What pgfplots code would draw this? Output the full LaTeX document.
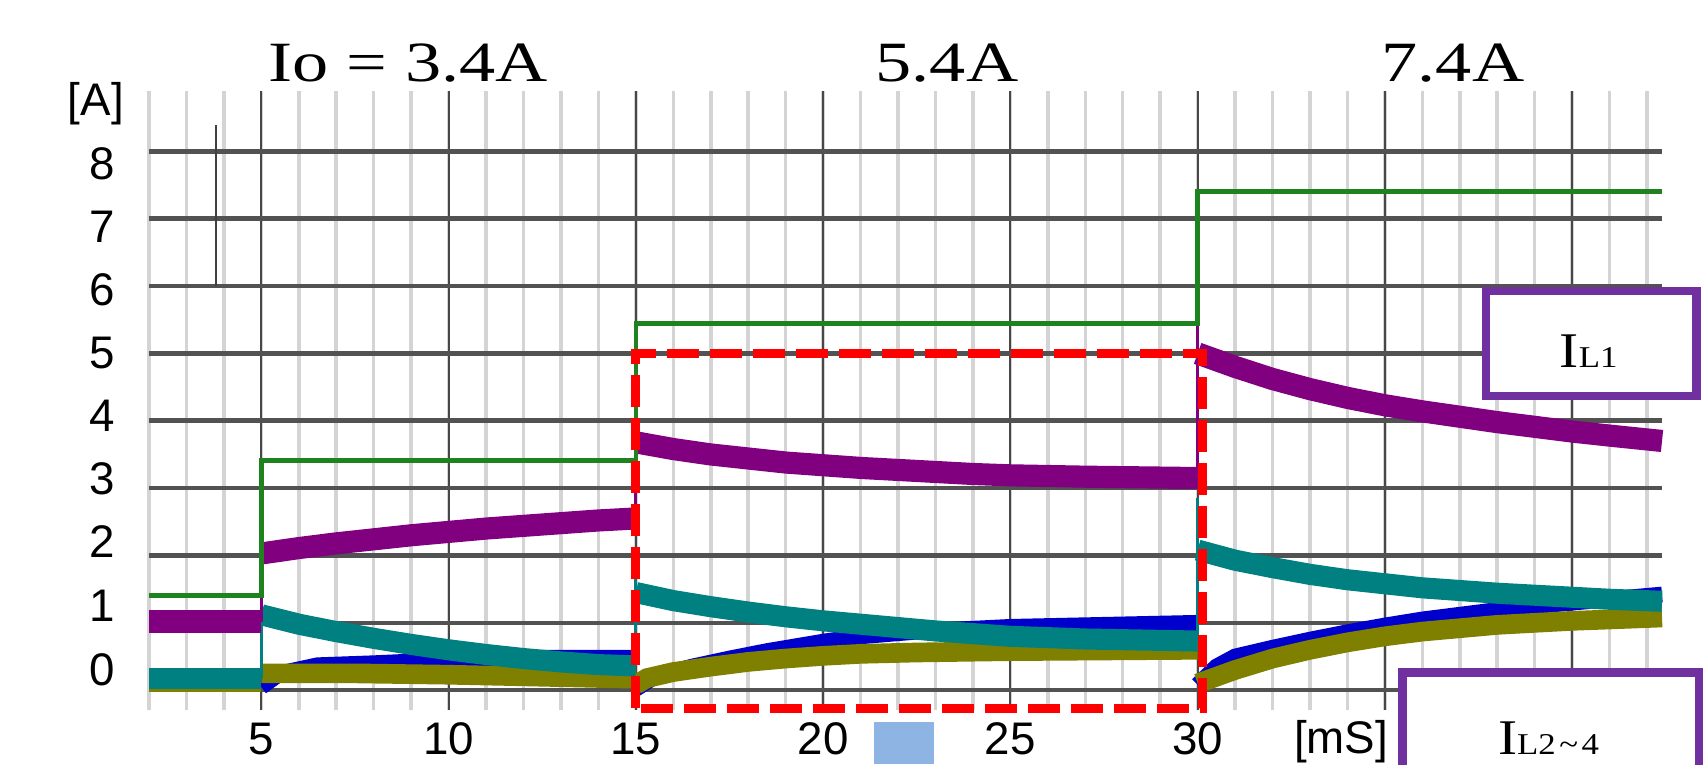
\documentclass[border=0pt]{standalone}
\usepackage{fontspec}
\setmainfont{Liberation Sans}
\newfontfamily\timesfont{Liberation Serif}
\usepackage{graphicx}
\usepackage{pgfplots}
\pgfplotsset{compat=1.18}

\definecolor{cPurple}{RGB}{128,0,128}
\definecolor{cTeal}{RGB}{0,128,128}
\definecolor{cOlive}{RGB}{128,128,0}
\definecolor{cBlue}{RGB}{0,0,205}
\definecolor{cGreen}{RGB}{30,130,30}
\definecolor{cRed}{RGB}{255,0,0}
\definecolor{cBox}{RGB}{112,48,160}
\definecolor{cLight}{RGB}{141,180,226}

\begin{document}
\begin{tikzpicture}
\begin{axis}[
  at={(14.9mm,5.36mm)}, anchor=south west,
  scale only axis, width=151.3mm, height=61.97mm,
  xmin=2, xmax=42.4, ymin=-0.3, ymax=8.9,
  clip=false,
  axis line style={draw=none},
  major tick length=0pt, minor tick length=0pt,
  xtick={5,10,15,20,25,30},
  xticklabels={5,10,15,20,25,30},
  minor xtick={2,3,...,42},
  xmajorgrids, xminorgrids,
  major x grid style={black!72, line width=0.6pt},
  minor x grid style={black!17, line width=1.0pt},
  extra x ticks={35,40},
  extra x tick labels={},
  extra x tick style={grid=major, major grid style={black!38, line width=1.0pt}},
  ytick={0.3,1.25,2.2,3.14,4.07,5,5.94,6.88,7.82},
  yticklabels={0,1,2,3,4,5,6,7,8},
  extra y ticks={0,1,2,3,4,5,6,7,8},
  extra y tick labels={},
  extra y tick style={grid=major, major grid style={black!68, line width=1.3pt}},
  tick label style={font=\fontsize{13}{13}\selectfont},
  yticklabel style={xshift=-2.2mm},
  /pgf/number format/assume math mode=true,
]
% short dark marker line
\addplot[black!75, line width=0.6pt] coordinates {(3.78,6.0)(3.78,8.39)};

% blue
\addplot[cBlue, line width=4.5pt] coordinates {(2,0.15)(5,0.15)};
\addplot[cBlue, line width=4.5pt] coordinates {(5,0.05)(5.5,0.25)(6.5,0.37)(8,0.4)(10,0.45)(12.5,0.48)(15,0.48)};
\addplot[cBlue, line width=4.5pt] coordinates {(15,0.02)(15.5,0.2)(16.5,0.35)(17.5,0.47)(18.5,0.58)(20,0.72)(21,0.8)(22.5,0.87)(25,0.94)(27.5,0.97)(30,1.0)};
\addplot[cBlue, line width=4.5pt] coordinates {(30,0.08)(30.5,0.35)(31,0.5)(32,0.63)(33,0.75)(34,0.86)(35,0.96)(36,1.05)(37,1.12)(38,1.19)(39,1.25)(40,1.3)(41,1.35)(42.4,1.42)};

% olive
\addplot[cOlive, line width=5.6pt] coordinates {(2,0.12)(5,0.12)};
\addplot[cOlive, line width=5.6pt] coordinates {(5,0.25)(7.5,0.25)(10,0.23)(12.5,0.2)(15,0.17)};
\addplot[cOlive, line width=5.6pt] coordinates {(15,0.08)(15.3,0.18)(16,0.27)(17,0.35)(18,0.42)(19,0.47)(20,0.51)(21,0.54)(22.5,0.56)(25,0.58)(30,0.6)};
\addplot[cOlive, line width=5.6pt] coordinates {(30,0.1)(30.5,0.2)(31,0.3)(32,0.47)(33,0.6)(34,0.71)(35,0.8)(36,0.87)(37,0.92)(38,0.97)(39,1.0)(40,1.03)(41,1.05)(42.4,1.08)};

% teal
\addplot[cTeal, line width=6pt] coordinates {(2,0.17)(5,0.17)};
\addplot[cTeal, line width=6pt] coordinates {(5,1.12)(6,0.98)(7,0.87)(8,0.77)(9,0.68)(10,0.6)(11,0.53)(12,0.47)(13,0.42)(14,0.38)(15,0.36)};
\addplot[cTeal, line width=6pt] coordinates {(15,1.45)(16,1.33)(17,1.24)(18,1.16)(19,1.09)(20,1.03)(21,0.98)(22,0.93)(23,0.88)(24,0.84)(25,0.8)(27,0.76)(30,0.73)};
\addplot[cTeal, line width=6pt] coordinates {(30,2.08)(31,1.93)(32,1.82)(33,1.72)(34,1.64)(35,1.58)(36,1.52)(37,1.48)(38,1.44)(39,1.41)(40,1.38)(41,1.35)(42.4,1.32)};
\addplot[cTeal, line width=0.9pt] coordinates {(5,0.17)(5,1.25)};
\addplot[cTeal, line width=0.9pt] coordinates {(15,0.36)(15,1.95)};
\addplot[cTeal, line width=0.9pt] coordinates {(30,0.73)(30,2.85)};

% purple
\addplot[cPurple, line width=6.3pt] coordinates {(2,1.02)(5,1.02)};
\addplot[cPurple, line width=6.3pt] coordinates {(5,2.03)(6,2.11)(7,2.18)(8,2.24)(9,2.3)(10,2.35)(11,2.4)(12,2.44)(13,2.48)(14,2.52)(15,2.55)};
\addplot[cPurple, line width=6.3pt] coordinates {(15,3.68)(16,3.58)(17,3.5)(18,3.44)(19,3.38)(20,3.34)(21,3.3)(22,3.27)(23,3.24)(24,3.21)(25,3.19)(27,3.17)(30,3.15)};
\addplot[cPurple, line width=6.3pt] coordinates {(30,5.0)(30.5,4.9)(31,4.8)(32,4.62)(33,4.47)(34,4.34)(35,4.23)(36,4.14)(37,4.06)(38,3.98)(39,3.91)(40,3.84)(41,3.78)(42.4,3.7)};
\addplot[cPurple, line width=0.9pt] coordinates {(5,1.02)(5,2.75)};
\addplot[cPurple, line width=0.9pt] coordinates {(15,2.55)(15,4.2)};
\addplot[cPurple, line width=0.9pt] coordinates {(30,3.15)(30,5.9)};

% green (Io)
\addplot[cGreen, line width=1.3pt, const plot] coordinates {(2,1.41)(5,3.41)(15,5.44)(30,7.4)(42.4,7.4)};

% red dashed rectangle
\draw[cRed, line width=0.9mm, dash pattern=on 3.2mm off 1.1mm]
  (axis cs:14.98,-0.27) rectangle (axis cs:30.12,5.0);
\end{axis}

% titles
\node[anchor=base] at (40.8mm,68.23mm) {\scalebox{1.27}[1]{\timesfont\fontsize{16.2}{18}\selectfont Io = 3.4A}};
\node[anchor=base] at (94.7mm,68.23mm) {\scalebox{1.27}[1]{\timesfont\fontsize{16.2}{18}\selectfont 5.4A}};
\node[anchor=base] at (145.3mm,68.23mm) {\scalebox{1.27}[1]{\timesfont\fontsize{16.2}{18}\selectfont 7.4A}};

% unit labels
\node at (9.58mm,66.06mm) {\fontsize{13}{13}\selectfont [A]};
\node at (134.1mm,2.25mm) {\fontsize{13}{13}\selectfont [mS]};

% light blue square
\fill[cLight] (87.4mm,0mm) rectangle (93.4mm,4.2mm);

% boxes
\draw[cBox, line width=0.85mm, fill=white] (148.6mm,36.8mm) rectangle (169.65mm,47.3mm);
\node[anchor=base] at (158.85mm,39.7mm) {\scalebox{1.15}[1]{\timesfont\fontsize{14.2}{14}\selectfont I\fontsize{8.6}{9}\selectfont L1}};
\draw[cBox, line width=0.85mm, fill=white] (140.25mm,-6mm) rectangle (169.9mm,9.15mm);
\node[anchor=base] at (154.85mm,1.0mm) {\scalebox{1.15}[1]{\timesfont\fontsize{14.2}{14}\selectfont I\fontsize{8.6}{9}\selectfont L2\kern0.1em\textasciitilde\kern0.1em 4}};

\pgfresetboundingbox
\path[use as bounding box] (0,0) rectangle (170.7mm,76.4mm);
\end{tikzpicture}
\end{document}
